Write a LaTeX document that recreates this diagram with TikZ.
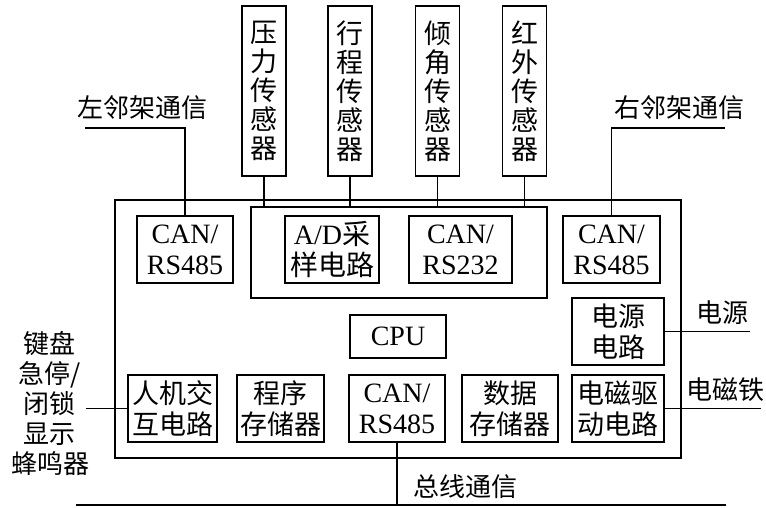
\documentclass[tikz,border=0pt]{standalone}
\usepackage{fontspec}
\setmainfont{Liberation Serif}
\newfontfamily\cjk{Noto Sans CJK SC}
\begin{document}
\begin{tikzpicture}[x=1pt,y=-1pt,
  every node/.style={inner sep=0pt, align=center},
  lw/.style={line width=1.8pt},
  blk/.style={draw, lw, font=\fontsize{28}{31}\selectfont},
  zhblk/.style={blk, font=\fontsize{27}{31}\selectfont\cjk},
  sens/.style={draw, lw, minimum width=44pt, minimum height=170pt, font=\fontsize{27}{29}\selectfont\cjk},
  lbl/.style={font=\fontsize{26}{30}\selectfont\cjk}]
\useasboundingbox (0,0) rectangle (766,507);
% frames
\node[draw, lw, minimum width=566pt, minimum height=258pt] (outer) at (398,329) {};
\node[draw, lw, minimum width=296pt, minimum height=91pt] (inner) at (399,252.5) {};
% sensors
\node[sens] (pres) at (264,91) {压\\力\\传\\感\\器};
\node[sens] (trav) at (350,91) {行\\程\\传\\感\\器};
\node[sens] (tilt) at (437.5,91) {倾\\角\\传\\感\\器};
\node[sens] (ir) at (524.5,91) {红\\外\\传\\感\\器};
% top row
\node[blk, minimum width=96pt, minimum height=67pt] (canL) at (185,249.5) {CAN/\\RS485};
\node[blk, minimum width=94pt, minimum height=67pt] (ad) at (332,249.5) {A/D{\cjk 采}\\{\cjk 样电路}};
\node[blk, minimum width=103pt, minimum height=67pt] (can232) at (460.5,249.5) {CAN/\\RS232};
\node[blk, minimum width=97pt, minimum height=67pt] (canR) at (611.5,249.5) {CAN/\\RS485};
% middle
\node[blk, minimum width=96pt, minimum height=43pt] (cpu) at (398,336.5) {CPU};
\node[zhblk, minimum width=92pt, minimum height=67pt] (power) at (618,331.5) {电源\\电路};
% bottom row
\node[zhblk, minimum width=89pt, minimum height=67pt] (hmi) at (172.5,408.5) {人机交\\互电路};
\node[zhblk, minimum width=87pt, minimum height=67pt] (prog) at (280.5,408.5) {程序\\存储器};
\node[blk, minimum width=96pt, minimum height=67pt] (canB) at (397,408.5) {CAN/\\RS485};
\node[zhblk, minimum width=96pt, minimum height=67pt] (data) at (510,408.5) {数据\\存储器};
\node[zhblk, minimum width=92pt, minimum height=67pt] (mag) at (618,408.5) {电磁驱\\动电路};
% sensor links
\foreach \s in {pres,trav,tilt,ir} \draw[lw] (\s.south) -- (\s.south |- inner.north);
% left / right neighbour communication
\coordinate (lc) at (85,128);
\coordinate (rc) at (725,128);
\draw[lw] (lc) -- (canL.north |- lc) -- (canL.north);
\draw[lw] (canR.north) -- (canR.north |- rc) -- (rc);
\node[lbl] (lcl) at (142.5,108) {左邻架通信};
\node[lbl] (rcl) at (679,108) {右邻架通信};
% power and magnet
\coordinate (pe) at (750,331.5);
\coordinate (me) at (761,408.5);
\draw[lw] (power.east) -- (pe);
\draw[lw] (mag.east) -- (me);
\node[lbl] (pel) at (722,313) {电源};
\node[lbl] (mel) at (725,390) {电磁铁};
% HMI peripherals
\coordinate (he) at (86,408.5);
\draw[lw] (he) -- (hmi.west);
\node[lbl] (hel) at (50,403) {键盘\\急停/\\闭锁\\显示\\蜂鸣器};
% bus
\coordinate (bl) at (76,505);
\coordinate (br) at (726,505);
\draw[lw] (bl) -- (br);
\draw[lw] (canB.south) -- (canB.south |- bl);
\node[lbl] (busl) at (465,487) {总线通信};
\end{tikzpicture}
\end{document}
